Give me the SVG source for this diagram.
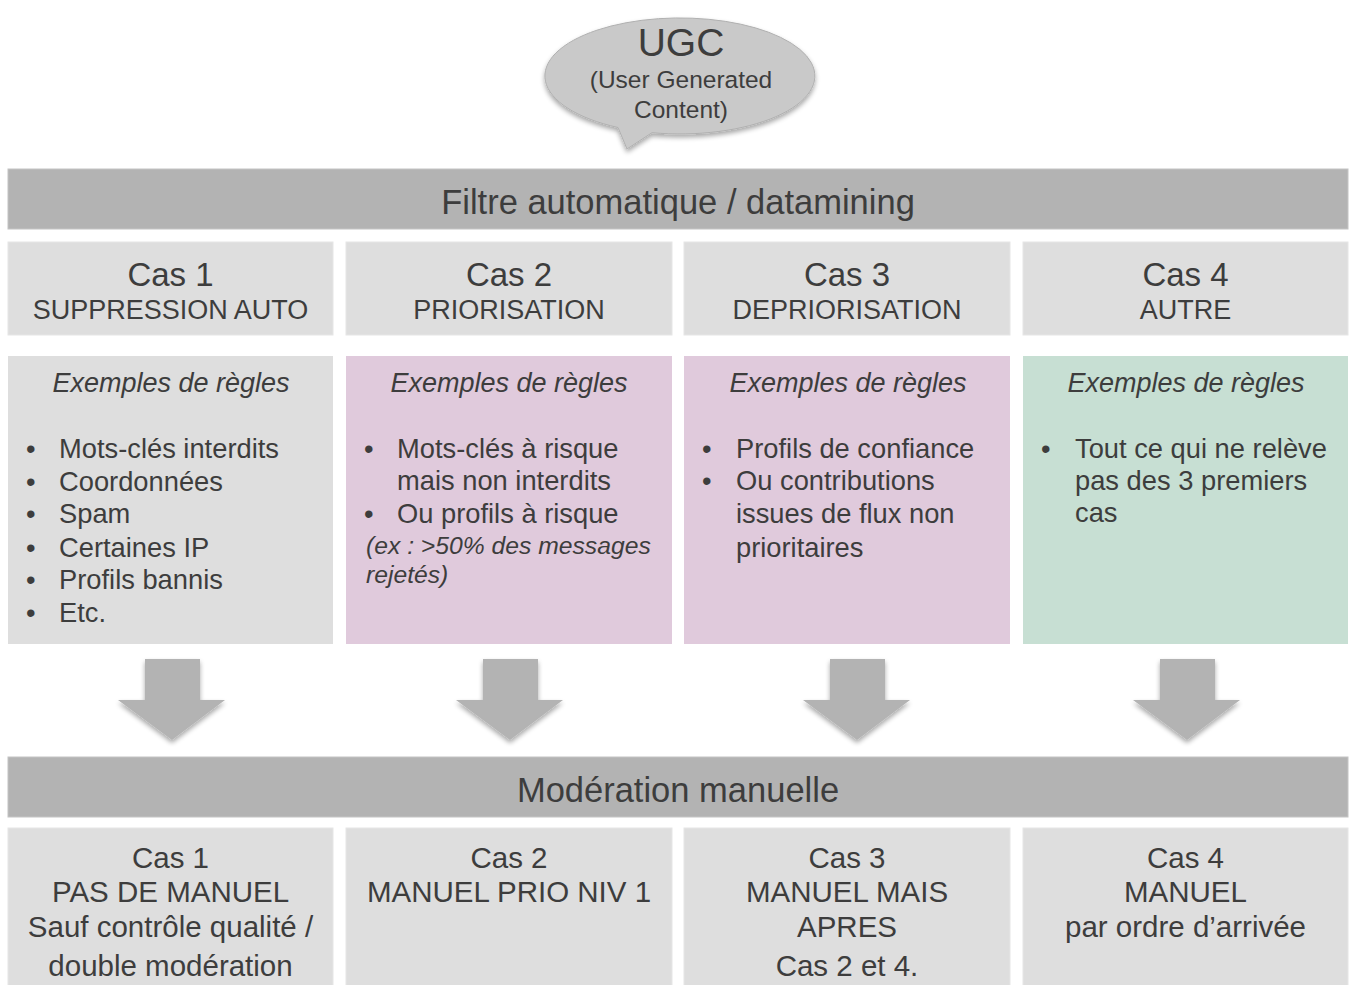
<svg xmlns="http://www.w3.org/2000/svg" width="1352" height="985" viewBox="0 0 1352 985">
<defs>
<filter id="sh" x="-20%" y="-20%" width="140%" height="150%">
<feGaussianBlur in="SourceAlpha" stdDeviation="2.5"/>
<feOffset dx="0" dy="3" result="b"/>
<feComponentTransfer><feFuncA type="linear" slope="0.35"/></feComponentTransfer>
<feMerge><feMergeNode/><feMergeNode in="SourceGraphic"/></feMerge>
</filter>
<path id="arrow" d="M-27,0 H28 V41 H53 L0,81 L-54,41 H-27 Z"/>
</defs>
<style>
text{font-family:"Liberation Sans",Arial,Helvetica,sans-serif;fill:#3d3d3d}
.bar{fill:#b3b3b3;stroke:#c4c4c4;stroke-width:1}
.hdr{fill:#dedede;stroke:#e6e6e6;stroke-width:1}
.gray{fill:#dedede}
.pink{fill:#e0cadc}
.green{fill:#c7dfd3}
.t34{font-size:34.5px;text-anchor:middle}
.t33{font-size:33px;text-anchor:middle}
.t27{font-size:27px;text-anchor:middle}
.ex{font-size:27px;font-style:italic;text-anchor:middle}
.li{font-size:27.3px}
.note{font-size:24.7px;font-style:italic}
.bt{font-size:29.5px;text-anchor:middle}
.arr{fill:#b3b3b3}
</style>
<rect width="1352" height="985" fill="#ffffff"/>

<g id="ugc">
<path d="M618,127.5 L627,149 L652,132.7 A135,58 0 1 0 618,127.5 Z" fill="#c9c9c9" stroke="#b0b0b0" stroke-width="1" filter="url(#sh)"/>
<text x="681" y="56" style="font-size:39px;text-anchor:middle">UGC</text>
<text x="681" y="88" style="font-size:24.5px;text-anchor:middle">(User Generated</text>
<text x="681" y="118" style="font-size:24.5px;text-anchor:middle">Content)</text>
</g>

<g id="filtre">
<rect class="bar" x="8" y="169" width="1340" height="60"/>
<text class="t34" x="678" y="214">Filtre automatique / datamining</text>
</g>

<g id="cas1-head">
<rect class="hdr" x="8" y="242" width="325" height="93"/>
<text class="t33" x="170.5" y="286">Cas 1</text>
<text class="t27" x="170.5" y="319">SUPPRESSION AUTO</text>
</g>
<g id="cas2-head">
<rect class="hdr" x="346" y="242" width="326" height="93"/>
<text class="t33" x="509" y="286">Cas 2</text>
<text class="t27" x="509" y="319">PRIORISATION</text>
</g>
<g id="cas3-head">
<rect class="hdr" x="684" y="242" width="326" height="93"/>
<text class="t33" x="847" y="286">Cas 3</text>
<text class="t27" x="847" y="319">DEPRIORISATION</text>
</g>
<g id="cas4-head">
<rect class="hdr" x="1023" y="242" width="325" height="93"/>
<text class="t33" x="1185.5" y="286">Cas 4</text>
<text class="t27" x="1185.5" y="319">AUTRE</text>
</g>

<g id="cas1-rules">
<rect class="gray" x="8" y="356" width="325" height="288"/>
<text class="ex" x="171" y="392">Exemples de règles</text>
<g class="li">
<text x="26" y="458">•</text><text x="59" y="458">Mots-clés interdits</text>
<text x="26" y="491">•</text><text x="59" y="491">Coordonnées</text>
<text x="26" y="523">•</text><text x="59" y="523">Spam</text>
<text x="26" y="557">•</text><text x="59" y="557">Certaines IP</text>
<text x="26" y="589">•</text><text x="59" y="589">Profils bannis</text>
<text x="26" y="622">•</text><text x="59" y="622">Etc.</text>
</g>
</g>
<g id="cas2-rules">
<rect class="pink" x="346" y="356" width="326" height="288"/>
<text class="ex" x="509" y="392">Exemples de règles</text>
<g class="li">
<text x="364" y="458">•</text><text x="397" y="458">Mots-clés à risque</text>
<text x="397" y="490">mais non interdits</text>
<text x="364" y="523">•</text><text x="397" y="523">Ou profils à risque</text>
</g>
<text class="note" x="366" y="554">(ex : &gt;50% des messages</text>
<text class="note" x="366" y="583">rejetés)</text>
</g>
<g id="cas3-rules">
<rect class="pink" x="684" y="356" width="326" height="288"/>
<text class="ex" x="848" y="392">Exemples de règles</text>
<g class="li">
<text x="702" y="458">•</text><text x="736" y="458">Profils de confiance</text>
<text x="702" y="490">•</text><text x="736" y="490">Ou contributions</text>
<text x="736" y="523">issues de flux non</text>
<text x="736" y="557">prioritaires</text>
</g>
</g>
<g id="cas4-rules">
<rect class="green" x="1023" y="356" width="325" height="288"/>
<text class="ex" x="1186" y="392">Exemples de règles</text>
<g class="li">
<text x="1041" y="458">•</text><text x="1075" y="458">Tout ce qui ne relève</text>
<text x="1075" y="490">pas des 3 premiers</text>
<text x="1075" y="522">cas</text>
</g>
</g>

<g id="connectors">
<use href="#arrow" class="arr" x="172" y="659" filter="url(#sh)"/>
<use href="#arrow" class="arr" x="510" y="659" filter="url(#sh)"/>
<use href="#arrow" class="arr" x="857" y="659" filter="url(#sh)"/>
<use href="#arrow" class="arr" x="1187" y="659" filter="url(#sh)"/>
</g>

<g id="moderation">
<rect class="bar" x="8" y="757" width="1340" height="60"/>
<text class="t34" x="678" y="802">Modération manuelle</text>
</g>

<g id="cas1-manuel">
<rect class="hdr" x="8" y="828" width="325" height="160"/>
<text class="bt" x="170.5" y="868">Cas 1</text>
<text class="bt" x="170.5" y="902">PAS DE MANUEL</text>
<text class="bt" x="170.5" y="937">Sauf contrôle qualité /</text>
<text class="bt" x="170.5" y="976">double modération</text>
</g>
<g id="cas2-manuel">
<rect class="hdr" x="346" y="828" width="326" height="160"/>
<text class="bt" x="509" y="868">Cas 2</text>
<text class="bt" x="509" y="902">MANUEL PRIO NIV 1</text>
</g>
<g id="cas3-manuel">
<rect class="hdr" x="684" y="828" width="326" height="160"/>
<text class="bt" x="847" y="868">Cas 3</text>
<text class="bt" x="847" y="902">MANUEL MAIS</text>
<text class="bt" x="847" y="937">APRES</text>
<text class="bt" x="847" y="976">Cas 2 et 4.</text>
</g>
<g id="cas4-manuel">
<rect class="hdr" x="1023" y="828" width="325" height="160"/>
<text class="bt" x="1185.5" y="868">Cas 4</text>
<text class="bt" x="1185.5" y="902">MANUEL</text>
<text class="bt" x="1185.5" y="937">par ordre d’arrivée</text>
</g>
</svg>
